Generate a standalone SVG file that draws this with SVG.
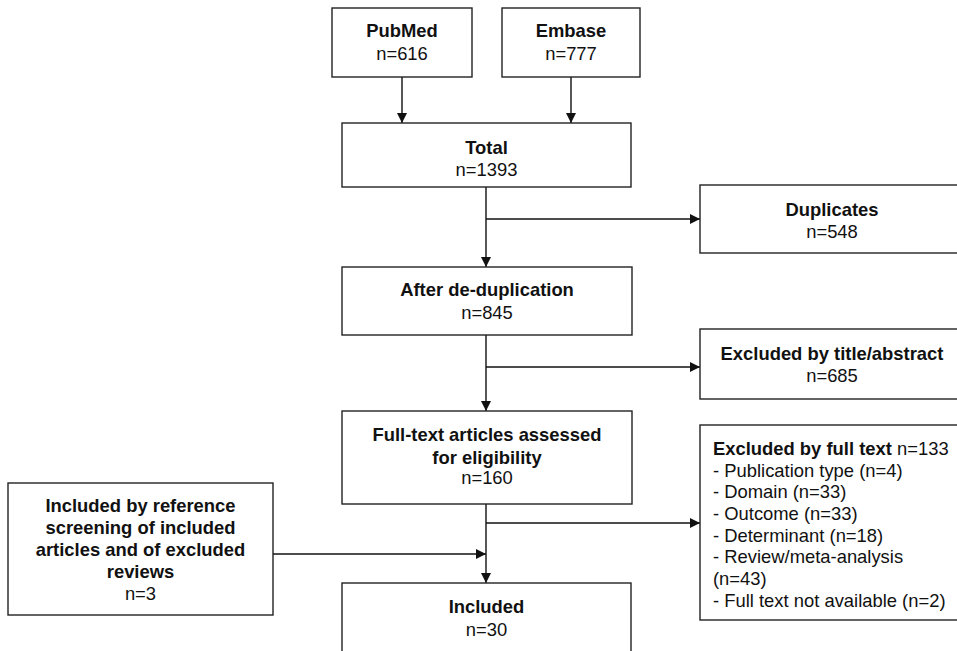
<svg xmlns="http://www.w3.org/2000/svg" width="957" height="651" viewBox="0 0 957 651">
<style>
.box{fill:#fff;stroke:#222;stroke-width:1.4}
.t{font-family:"Liberation Sans",Arial,sans-serif;font-size:18.4px;fill:#111}
.c{text-anchor:middle}
.b{font-weight:bold}
.ln{stroke:#111;stroke-width:1.4;fill:none}
</style>
<defs>
<marker id="ah" markerUnits="userSpaceOnUse" markerWidth="10" markerHeight="10" refX="10" refY="5" orient="auto">
<path d="M0,0 L10,5 L0,10 z" fill="#111"/>
</marker>
</defs>
<rect width="957" height="651" fill="#fff"/>
<g id="connectors">
<line class="ln" x1="402" y1="77" x2="402" y2="123" marker-end="url(#ah)"/>
<line class="ln" x1="571" y1="77" x2="571" y2="123" marker-end="url(#ah)"/>
<line class="ln" x1="486" y1="187" x2="486" y2="267" marker-end="url(#ah)"/>
<line class="ln" x1="486" y1="219" x2="700" y2="219" marker-end="url(#ah)"/>
<line class="ln" x1="486" y1="335" x2="486" y2="411" marker-end="url(#ah)"/>
<line class="ln" x1="486" y1="367" x2="700" y2="367" marker-end="url(#ah)"/>
<line class="ln" x1="486" y1="504" x2="486" y2="583" marker-end="url(#ah)"/>
<line class="ln" x1="486" y1="523" x2="700" y2="523" marker-end="url(#ah)"/>
<line class="ln" x1="273" y1="554" x2="486" y2="554" marker-end="url(#ah)"/>
</g>
<g id="pubmed">
<rect class="box" x="332" y="8" width="140" height="69"/>
<text class="t c b" x="402" y="37">PubMed</text>
<text class="t c" x="402" y="60">n=616</text>
</g>
<g id="embase">
<rect class="box" x="502" y="8" width="138" height="69"/>
<text class="t c b" x="571" y="37">Embase</text>
<text class="t c" x="571" y="60">n=777</text>
</g>
<g id="total">
<rect class="box" x="342" y="123" width="289" height="64"/>
<text class="t c b" x="486.5" y="154">Total</text>
<text class="t c" x="486.5" y="176">n=1393</text>
</g>
<g id="duplicates">
<rect class="box" x="700" y="185" width="264" height="68"/>
<text class="t c b" x="832" y="216">Duplicates</text>
<text class="t c" x="832" y="238">n=548</text>
</g>
<g id="dedup">
<rect class="box" x="342" y="267" width="290" height="68"/>
<text class="t c b" x="487" y="296">After de-duplication</text>
<text class="t c" x="487" y="319">n=845</text>
</g>
<g id="title-abstract">
<rect class="box" x="700" y="329" width="264" height="70"/>
<text class="t c b" x="832" y="360">Excluded by title/abstract</text>
<text class="t c" x="832" y="382">n=685</text>
</g>
<g id="fulltext">
<rect class="box" x="342" y="411" width="290" height="93"/>
<text class="t c b" x="487" y="441">Full-text articles assessed</text>
<text class="t c b" x="487" y="464">for eligibility</text>
<text class="t c" x="487" y="484">n=160</text>
</g>
<g id="excluded-fulltext">
<rect class="box" x="700" y="425" width="264" height="195"/>
<text class="t" x="713" y="455"><tspan class="b">Excluded by full text</tspan> n=133</text>
<text class="t" x="713" y="477">- Publication type (n=4)</text>
<text class="t" x="713" y="498">- Domain (n=33)</text>
<text class="t" x="713" y="520">- Outcome (n=33)</text>
<text class="t" x="713" y="542">- Determinant (n=18)</text>
<text class="t" x="713" y="563">- Review/meta-analysis</text>
<text class="t" x="713" y="585">(n=43)</text>
<text class="t" x="713" y="607">- Full text not available (n=2)</text>
</g>
<g id="reference-screening">
<rect class="box" x="8" y="483" width="265" height="132"/>
<text class="t c b" x="140.5" y="512">Included by reference</text>
<text class="t c b" x="140.5" y="534">screening of included</text>
<text class="t c b" x="140.5" y="556">articles and of excluded</text>
<text class="t c b" x="140.5" y="578">reviews</text>
<text class="t c" x="140.5" y="600">n=3</text>
</g>
<g id="included">
<rect class="box" x="342" y="583" width="289" height="80"/>
<text class="t c b" x="486.5" y="613">Included</text>
<text class="t c" x="486.5" y="636">n=30</text>
</g>
</svg>
